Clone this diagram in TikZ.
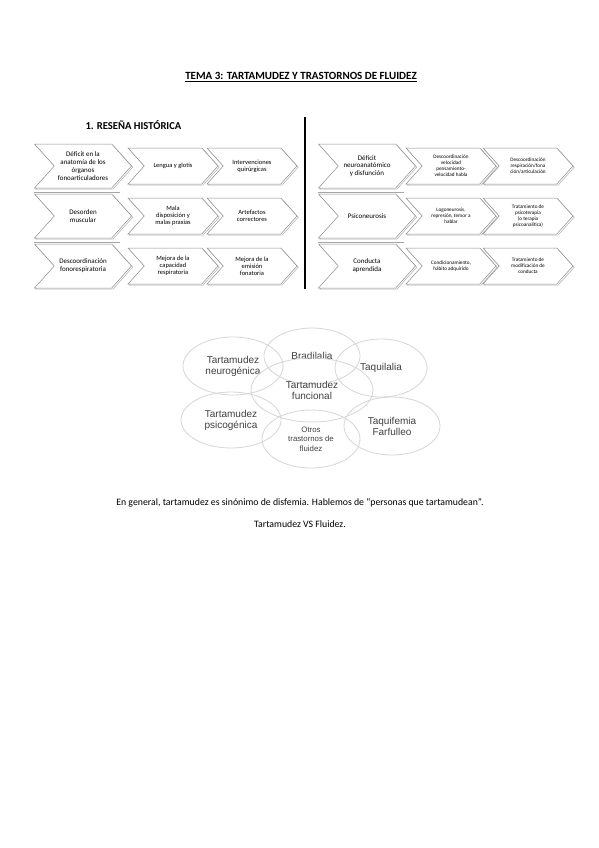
\documentclass[tikz,border=0pt]{standalone}
\usepackage{fontspec}
\setmainfont{Carlito}
\newfontfamily\blobfont{Liberation Sans}
\usetikzlibrary{shapes.symbols,shapes.geometric,shadows}
\definecolor{chevline}{HTML}{8C8C8C}
\definecolor{rowline}{HTML}{A6A6A6}
\definecolor{blobline}{HTML}{D6D6D6}
\definecolor{blobtext}{HTML}{404040}
\tikzset{
  chev/.style={signal, signal to=east, signal from=west, signal pointer angle=96,
               draw=chevline, fill=white, line width=0.5pt, inner sep=0pt,
               align=center, text=black,
               copy shadow={shadow xshift=1.2pt, shadow yshift=-1.2pt,
                            draw=chevline!70, fill=white}},
  mainchev/.style={chev, minimum width=97pt, minimum height=44pt,
                   font=\fontsize{7}{7.8}\selectfont},
  subchev/.style={chev, minimum width=90pt, minimum height=36pt,
                  font=\fontsize{6.5}{7.2}\selectfont},
  smallchev/.style={subchev, font=\fontsize{5.2}{6}\selectfont},
  blob/.style={ellipse, draw=blobline, line width=0.8pt, inner sep=0pt,
               align=center, text=blobtext, font=\blobfont\fontsize{10}{11}\selectfont},
}
\begin{document}
\begin{tikzpicture}[x=1pt, y=-1pt]
  \useasboundingbox[fill=white] (0,0) rectangle (599,848);

  % heading
  \node[font=\bfseries\fontsize{11}{13}\selectfont] (title) at (301,77)
    {\underline{TEMA 3: TARTAMUDEZ Y TRASTORNOS DE FLUIDEZ}};
  \node[font=\bfseries\fontsize{10.6}{12}\selectfont, anchor=west] (resena) at (82,125)
    {1. RESEÑA HISTÓRICA};

  % divider
  \coordinate (divtop) at (305,117);
  \coordinate (divbot) at (305,289);
  \draw[line width=1.6pt] (divtop) -- (divbot);

  % left block
  \node[subchev] (l1b) at (173,166) {Lengua y glotis};
  \node[subchev] (l1c) at (252,166) {Intervenciones\\quirúrgicas};
  \node[mainchev] (l1a) at (83,166) {Déficit en la\\anatomía de los\\órganos\\fonoarticuladores};
  \node[subchev] (l2b) at (173,216) {Mala\\disposición y\\malas praxias};
  \node[subchev] (l2c) at (252,216) {Artefactos\\correctores};
  \node[mainchev] (l2a) at (83,216) {Desorden\\muscular};
  \node[subchev] (l3b) at (173,266) {Mejora de la\\capacidad\\respiratoria};
  \node[subchev] (l3c) at (252,266) {Mejora de la\\emisión\\fonatoria};
  \node[mainchev] (l3a) at (83,266) {Descoordinación\\fonorespiratoria};

  % right block
  \node[smallchev] (r1b) at (451,166) {Descoordinación\\velocidad\\pensamiento-\\velocidad habla};
  \node[smallchev] (r1c) at (528,166) {Descoordinación\\respiración/fona\\ción/articulación};
  \node[mainchev] (r1a) at (367,166) {Déficit\\neuroanatómico\\y disfunción};
  \node[smallchev] (r2b) at (451,216) {Logoneurosis,\\represión, temor a\\hablar};
  \node[smallchev] (r2c) at (528,216) {Tratamiento de\\psicoterapia\\(o terapia\\psicoanalítica)};
  \node[mainchev] (r2a) at (367,216) {Psiconeurosis};
  \node[smallchev] (r3b) at (451,266) {Condicionamiento,\\hábito adquirido};
  \node[smallchev] (r3c) at (528,266) {Tratamiento de\\modificación de\\conducta};
  \node[mainchev] (r3a) at (367,266) {Conducta\\aprendida};

  % row rules
  \draw[rowline, line width=0.5pt] ([yshift=-4pt]l1a.south west) -- ++(86,0);
  \draw[rowline, line width=0.5pt] ([yshift=-4pt]l2a.south west) -- ++(86,0);
  \draw[rowline, line width=0.5pt] ([yshift=-4pt]r1a.south west) -- ++(86,0);
  \draw[rowline, line width=0.5pt] ([yshift=-4pt]r2a.south west) -- ++(86,0);

  % types of disfluency
  \node[blob, minimum width=100pt, minimum height=58pt] (neuro) at (233,366) {Tartamudez\\neurogénica};
  \node[blob, minimum width=96pt, minimum height=56pt] (bradi) at (312,356) {Bradilalia};
  \node[blob, minimum width=92pt, minimum height=58pt] (taqui) at (381,368) {Taquilalia};
  \node[blob, minimum width=100pt, minimum height=56pt] (psico) at (231,420) {Tartamudez\\psicogénica};
  \node[blob, minimum width=96pt, minimum height=58pt] (taquif) at (392,426) {Taquifemia\\Farfulleo};
  \node[blob, minimum width=98pt, minimum height=58pt,
        font=\blobfont\fontsize{7.8}{9.6}\selectfont] (otros) at (311,439) {Otros\\trastornos de\\fluidez};
  \node[blob, minimum width=122pt, minimum height=64pt] (func) at (312,390) {Tartamudez\\funcional};

  % body text
  \node[font=\fontsize{9.8}{11}\selectfont] (disfemia) at (300,503)
    {En general, tartamudez es sinónimo de disfemia. Hablemos de “personas que tartamudean”.};
  \node[font=\fontsize{9.8}{11}\selectfont] (vs) at (300,524) {Tartamudez VS Fluidez.};
\end{tikzpicture}
\end{document}
